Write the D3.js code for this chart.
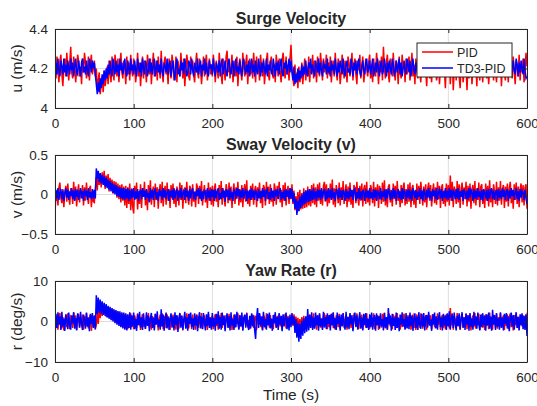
<!DOCTYPE html>
<html lang="en">
<head>
<meta charset="utf-8">
<title>Surge, sway and yaw</title>
<script src="https://d3js.org/d3.v7.min.js"></script>
<style>
  body { margin: 0; background: #fff; }
  text { font-family: "Liberation Sans", Arial, sans-serif; fill: #262626; }
</style>
</head>
<body>
<script>
// samples every 1.25 s from 0 to 600 s
var tEnd = 600;
var xTicks = [0, 100, 200, 300, 400, 500, 600];
var seriesNames = ["PID", "TD3-PID"];

// surge velocity u (m/s)
var surgePID = [
4.22,4.15,4.26,4.19,4.13,4.24,4.27,4.17,4.11,4.21,4.25,4.16,4.28,4.20,4.14,4.23,4.31,4.18,4.15,4.26,4.22,4.13,4.19,4.27,4.24,4.16,4.21,4.12,4.25,4.18,4.28,4.23,4.15,4.19,4.26,4.14,4.22,4.27,4.17,4.20,
4.24,4.16,4.20,4.10,4.14,4.18,4.07,4.12,4.16,4.08,4.19,4.11,4.15,4.21,4.12,4.24,4.17,4.13,4.26,4.19,4.14,4.27,4.22,4.16,4.25,4.13,4.21,4.28,4.18,4.15,4.24,4.20,4.12,4.26,4.17,4.23,4.14,4.27,4.19,4.16,
4.25,4.21,4.13,4.18,4.28,4.16,4.23,4.11,4.20,4.26,4.15,4.24,4.19,4.13,4.27,4.22,4.17,4.25,4.12,4.21,4.28,4.16,4.19,4.24,4.14,4.26,4.20,4.15,4.29,4.18,4.13,4.23,4.26,4.17,4.21,4.12,4.25,4.19,4.15,4.27,
4.22,4.14,4.18,4.26,4.13,4.24,4.20,4.16,4.28,4.21,4.15,4.25,4.11,4.19,4.27,4.23,4.16,4.14,4.26,4.20,4.24,4.17,4.13,4.22,4.28,4.18,4.15,4.25,4.21,4.12,4.19,4.26,4.16,4.23,4.27,4.14,4.20,4.25,4.17,4.22,
4.16,4.27,4.21,4.13,4.24,4.19,4.15,4.28,4.22,4.17,4.12,4.25,4.20,4.14,4.26,4.29,4.18,4.23,4.15,4.21,4.27,4.13,4.19,4.24,4.16,4.26,4.11,4.22,4.25,4.18,4.14,4.28,4.20,4.16,4.23,4.27,4.12,4.21,4.25,4.17,
4.24,4.15,4.28,4.20,4.13,4.26,4.18,4.22,4.14,4.27,4.21,4.16,4.25,4.12,4.19,4.24,4.28,4.17,4.14,4.23,4.26,4.19,4.15,4.22,4.13,4.27,4.21,4.16,4.25,4.18,4.13,4.24,4.28,4.20,4.15,4.26,4.17,4.22,4.14,4.25,
4.32,4.20,4.15,4.11,4.22,4.14,4.18,4.10,4.21,4.13,4.16,4.23,4.12,4.19,4.25,4.14,4.21,4.16,4.26,4.13,4.22,4.18,4.27,4.15,4.24,4.20,4.13,4.26,4.19,4.16,4.28,4.22,4.14,4.25,4.18,4.21,4.27,4.15,4.23,4.17,
4.26,4.13,4.20,4.24,4.16,4.28,4.19,4.14,4.25,4.22,4.12,4.18,4.27,4.21,4.15,4.24,4.19,4.13,4.26,4.23,4.16,4.20,4.28,4.14,4.22,4.25,4.17,4.12,4.24,4.19,4.27,4.15,4.21,4.26,4.13,4.18,4.25,4.20,4.16,4.23,
4.27,4.15,4.21,4.13,4.25,4.19,4.16,4.28,4.22,4.12,4.24,4.18,4.26,4.14,4.31,4.20,4.15,4.23,4.27,4.17,4.13,4.25,4.21,4.16,4.28,4.19,4.14,4.24,4.22,4.12,4.26,4.18,4.15,4.27,4.20,4.23,4.13,4.25,4.17,4.21,
4.26,4.14,4.19,4.28,4.16,4.22,4.12,4.25,4.20,4.15,4.27,4.18,4.13,4.24,4.21,4.16,4.29,4.19,4.11,4.23,4.26,4.15,4.20,4.13,4.25,4.18,4.27,4.22,4.14,4.17,4.26,4.12,4.21,4.24,4.16,4.28,4.19,4.10,4.23,4.25,
4.17,4.27,4.12,4.21,4.25,4.09,4.19,4.26,4.14,4.23,4.28,4.16,4.10,4.22,4.25,4.13,4.18,4.27,4.20,4.09,4.24,4.15,4.21,4.28,4.12,4.19,4.25,4.16,4.22,4.11,4.27,4.18,4.14,4.24,4.20,4.13,4.26,4.17,4.22,4.15,
4.25,4.12,4.20,4.27,4.16,4.23,4.14,4.28,4.19,4.13,4.24,4.21,4.16,4.26,4.11,4.22,4.27,4.18,4.14,4.25,4.20,4.13,4.28,4.17,4.23,4.15,4.26,4.19,4.12,4.24,4.21,4.16,4.27,4.14,4.22,4.18,4.25,4.13,4.20,4.28,
4.21];
var surgeTD3 = [
4.13,4.23,4.17,4.25,4.19,4.16,4.24,4.21,4.17,4.25,4.18,4.22,4.16,4.24,4.20,4.17,4.25,4.19,4.23,4.16,4.21,4.25,4.18,4.17,4.24,4.20,4.16,4.23,4.25,4.18,4.21,4.17,4.24,4.19,4.16,4.25,4.22,4.18,4.24,4.20,
4.23,4.17,4.12,4.07,4.13,4.08,4.15,4.10,4.17,4.12,4.19,4.14,4.20,4.15,4.22,4.17,4.24,4.18,4.16,4.25,4.20,4.17,4.24,4.18,4.22,4.16,4.25,4.19,4.23,4.17,4.21,4.25,4.18,4.16,4.24,4.20,4.17,4.25,4.19,4.22,
4.17,4.24,4.19,4.16,4.25,4.21,4.18,4.23,4.16,4.25,4.20,4.17,4.24,4.22,4.16,4.19,4.25,4.18,4.23,4.17,4.21,4.25,4.16,4.20,4.24,4.18,4.22,4.17,4.25,4.19,4.16,4.23,4.21,4.18,4.25,4.17,4.22,4.24,4.16,4.20,
4.24,4.18,4.14,4.22,4.25,4.17,4.20,4.16,4.24,4.19,4.23,4.17,4.25,4.21,4.16,4.18,4.24,4.22,4.17,4.25,4.19,4.16,4.23,4.20,4.18,4.25,4.17,4.21,4.24,4.16,4.22,4.19,4.25,4.17,4.23,4.18,4.16,4.24,4.20,4.22,
4.17,4.25,4.19,4.16,4.23,4.21,4.18,4.24,4.16,4.22,4.25,4.17,4.20,4.24,4.18,4.16,4.23,4.25,4.19,4.17,4.22,4.24,4.16,4.20,4.25,4.18,4.21,4.17,4.24,4.19,4.16,4.23,4.25,4.20,4.17,4.22,4.18,4.24,4.16,4.21,
4.25,4.18,4.22,4.16,4.24,4.19,4.17,4.25,4.21,4.16,4.23,4.18,4.24,4.20,4.17,4.25,4.16,4.22,4.19,4.24,4.18,4.17,4.25,4.21,4.16,4.23,4.19,4.24,4.17,4.22,4.25,4.18,4.16,4.23,4.20,4.24,4.17,4.21,4.25,4.18,
4.24,4.18,4.14,4.21,4.12,4.17,4.13,4.20,4.14,4.19,4.15,4.22,4.16,4.21,4.17,4.24,4.18,4.16,4.23,4.20,4.25,4.17,4.22,4.19,4.16,4.24,4.21,4.18,4.25,4.17,4.23,4.19,4.16,4.24,4.20,4.22,4.17,4.25,4.18,4.21,
4.16,4.24,4.19,4.22,4.17,4.25,4.20,4.16,4.23,4.18,4.24,4.21,4.17,4.25,4.19,4.16,4.22,4.24,4.18,4.20,4.17,4.25,4.21,4.16,4.23,4.19,4.24,4.17,4.22,4.25,4.18,4.16,4.21,4.24,4.19,4.17,4.23,4.25,4.18,4.20,
4.24,4.17,4.21,4.25,4.16,4.19,4.23,4.18,4.25,4.20,4.16,4.22,4.24,4.17,4.19,4.25,4.21,4.16,4.23,4.18,4.24,4.20,4.17,4.25,4.22,4.16,4.19,4.24,4.18,4.21,4.25,4.17,4.23,4.16,4.20,4.24,4.19,4.17,4.25,4.22,
4.18,4.24,4.16,4.21,4.25,4.19,4.17,4.23,4.20,4.16,4.24,4.18,4.25,4.22,4.17,4.19,4.24,4.16,4.21,4.25,4.18,4.23,4.17,4.20,4.24,4.16,4.22,4.25,4.19,4.17,4.23,4.21,4.16,4.24,4.18,4.25,4.20,4.17,4.22,4.24,
4.16,4.21,4.25,4.18,4.23,4.17,4.20,4.24,4.16,4.22,4.25,4.19,4.17,4.24,4.21,4.16,4.23,4.18,4.25,4.20,4.17,4.22,4.24,4.16,4.19,4.25,4.21,4.17,4.23,4.18,4.24,4.16,4.20,4.25,4.22,4.17,4.19,4.24,4.18,4.21,
4.25,4.17,4.22,4.16,4.24,4.19,4.21,4.25,4.17,4.23,4.16,4.20,4.24,4.18,4.25,4.22,4.16,4.19,4.24,4.17,4.21,4.25,4.18,4.23,4.16,4.20,4.24,4.19,4.17,4.25,4.22,4.16,4.23,4.18,4.24,4.20,4.17,4.25,4.19,4.15,
4.16];

// sway velocity v (m/s)
var swayPID = [
0.12,-0.08,0.04,-0.14,0.09,0.15,-0.05,-0.11,0.07,-0.16,0.02,0.11,-0.09,0.14,-0.03,-0.13,0.08,0.05,-0.12,0.16,-0.07,0.10,-0.15,0.03,0.13,-0.10,0.06,-0.04,0.12,-0.14,0.09,-0.08,0.15,-0.02,-0.12,0.07,0.11,-0.16,0.04,-0.09,
-0.10,0.08,0.22,0.05,0.27,0.12,0.25,0.09,0.28,0.14,0.30,0.07,0.24,0.11,0.26,0.04,0.21,0.09,0.19,0.01,0.17,0.03,0.16,-0.04,0.14,-0.06,0.12,-0.10,0.13,-0.08,0.10,-0.14,0.11,-0.17,0.09,-0.12,0.14,-0.20,0.08,-0.15,
-0.24,0.11,-0.06,0.15,-0.19,0.04,-0.12,0.13,-0.17,0.08,-0.03,0.16,-0.14,0.06,-0.20,0.12,-0.09,0.18,-0.13,0.03,0.10,-0.16,0.14,-0.07,0.09,-0.18,0.05,0.13,-0.11,0.16,-0.15,0.02,0.11,-0.13,0.15,-0.08,0.07,-0.17,0.12,-0.05,
0.14,-0.12,0.06,-0.16,0.10,0.03,-0.14,0.15,-0.07,0.12,-0.18,0.05,0.09,-0.11,0.16,-0.04,-0.13,0.11,0.07,-0.15,0.13,-0.09,0.04,-0.16,0.14,0.08,-0.12,0.11,-0.06,0.17,-0.14,0.02,0.12,-0.10,0.06,-0.17,0.15,-0.08,0.09,-0.13,
0.11,-0.15,0.07,0.14,-0.09,0.04,-0.16,0.12,-0.06,0.17,-0.13,0.08,-0.03,-0.15,0.13,0.06,-0.11,0.15,-0.08,0.10,-0.17,0.04,0.14,-0.12,0.09,-0.05,0.16,-0.14,0.07,-0.10,0.12,-0.16,0.05,0.13,-0.09,0.18,-0.12,0.03,-0.15,0.11,
-0.07,0.14,-0.13,0.06,0.11,-0.16,0.09,-0.04,0.15,-0.11,0.05,-0.17,0.12,0.08,-0.14,0.16,-0.06,0.10,-0.12,0.13,-0.09,0.04,-0.15,0.14,0.07,-0.13,0.11,-0.05,0.16,-0.10,0.06,-0.16,0.12,-0.08,0.15,-0.14,0.03,0.11,-0.12,0.08,
-0.06,0.13,-0.12,0.05,-0.20,-0.02,-0.23,0.03,-0.21,0.06,-0.19,0.02,-0.18,0.08,-0.17,0.05,-0.16,0.10,-0.14,0.07,-0.15,0.12,-0.11,0.14,-0.13,0.09,-0.16,0.13,-0.08,0.15,-0.12,0.06,-0.14,0.11,0.16,-0.09,0.13,-0.15,0.07,-0.11,
0.14,-0.06,0.19,-0.13,0.08,-0.16,0.12,0.05,-0.11,0.15,-0.14,0.09,-0.07,0.17,-0.12,0.04,0.13,-0.16,0.10,-0.09,0.15,-0.13,0.06,-0.17,0.12,0.08,-0.11,0.16,-0.05,-0.14,0.11,-0.08,0.14,-0.15,0.07,0.12,-0.12,0.16,-0.10,0.05,
-0.14,0.12,0.06,-0.11,0.16,-0.15,0.09,-0.07,0.13,-0.17,0.11,0.04,-0.12,0.15,-0.09,0.18,-0.14,0.07,-0.16,0.10,0.13,-0.10,0.06,-0.15,0.14,-0.06,0.11,-0.13,0.17,-0.08,0.05,-0.16,0.12,-0.11,0.09,0.15,-0.14,0.07,-0.12,0.13,
-0.09,0.15,-0.16,0.08,0.12,-0.13,0.05,-0.17,0.14,-0.07,0.11,-0.12,0.16,0.03,-0.14,0.10,-0.10,0.13,-0.16,0.07,0.15,-0.08,0.12,-0.15,0.04,0.14,-0.11,0.09,-0.13,0.16,-0.06,0.11,-0.17,0.08,0.13,-0.12,0.05,-0.15,0.14,-0.09,
0.12,-0.14,0.24,-0.08,0.16,-0.16,0.10,0.05,-0.12,0.17,-0.10,0.13,-0.17,0.07,0.15,-0.13,0.09,-0.06,0.16,-0.15,0.11,-0.09,0.14,-0.18,0.06,0.12,-0.11,0.17,-0.14,0.08,-0.07,0.15,-0.16,0.10,0.13,-0.12,0.05,-0.17,0.14,-0.08,
0.11,-0.15,0.18,-0.10,0.07,-0.16,0.13,0.04,-0.12,0.16,-0.14,0.09,-0.08,0.17,-0.13,0.06,0.12,-0.17,0.10,-0.09,0.14,-0.15,0.08,0.16,-0.11,0.05,-0.18,0.13,-0.07,0.15,-0.12,0.10,-0.16,0.07,0.14,-0.10,0.12,-0.14,0.09,0.13,
-0.18];
var swayTD3 = [
-0.25,0.06,-0.05,0.08,-0.07,0.03,0.07,-0.06,0.05,-0.08,0.02,0.08,-0.04,0.06,-0.07,0.04,-0.02,0.08,-0.06,0.05,-0.08,0.07,-0.03,0.06,-0.07,0.02,0.08,-0.05,0.04,-0.08,0.07,-0.02,0.05,-0.07,0.08,-0.04,0.03,-0.06,0.07,-0.05,
0.06,-0.05,0.33,0.20,0.30,0.16,0.27,0.14,0.25,0.12,0.23,0.10,0.21,0.08,0.19,0.06,0.17,0.04,0.15,0.02,0.13,0.00,0.12,-0.02,0.10,-0.03,0.09,-0.05,0.08,-0.06,0.08,-0.07,0.07,-0.05,0.08,-0.08,0.06,-0.06,0.07,-0.04,
0.08,-0.07,0.04,-0.05,0.07,-0.08,0.03,0.06,-0.06,0.08,-0.03,0.05,-0.07,0.07,-0.04,0.02,-0.10,0.08,-0.05,0.06,-0.07,0.04,0.08,-0.06,0.03,-0.08,0.07,-0.02,0.05,-0.07,0.08,-0.04,0.06,-0.06,0.02,0.07,-0.08,0.05,-0.03,0.06,
-0.07,0.08,-0.05,0.03,0.07,-0.08,0.05,-0.04,0.08,-0.06,0.02,0.06,-0.07,0.08,-0.03,0.05,-0.08,0.07,-0.05,0.04,0.08,-0.06,0.03,-0.07,0.06,-0.02,0.08,-0.05,0.07,-0.08,0.04,-0.06,0.06,0.02,-0.07,0.08,-0.04,0.05,-0.08,0.07,
-0.03,0.06,-0.08,0.07,-0.05,0.04,0.08,-0.07,0.02,-0.06,0.08,-0.04,0.05,-0.09,0.07,-0.03,0.06,-0.07,0.08,-0.05,0.03,-0.08,0.06,0.04,-0.06,0.08,-0.02,0.07,-0.07,0.05,-0.04,0.08,-0.06,0.03,0.07,-0.08,0.05,-0.05,0.06,-0.07,
0.08,-0.04,0.05,-0.07,0.06,0.02,-0.08,0.07,-0.05,0.04,-0.06,0.08,-0.03,0.06,-0.08,0.05,0.07,-0.06,0.03,-0.07,0.08,-0.04,0.05,-0.08,0.06,-0.02,0.07,-0.06,0.04,0.08,-0.07,0.03,-0.05,0.06,-0.08,0.07,-0.03,0.05,-0.06,0.08,
-0.05,0.07,-0.10,0.02,-0.18,-0.05,-0.26,-0.08,-0.21,-0.03,-0.17,0.00,-0.14,0.03,-0.12,0.05,-0.10,0.06,-0.09,0.07,-0.08,0.05,-0.07,0.08,-0.06,0.04,-0.08,0.07,-0.04,0.06,-0.07,0.08,-0.05,0.03,0.07,-0.08,0.05,-0.06,0.08,-0.04,
0.06,-0.07,0.08,-0.05,0.03,-0.08,0.07,0.04,-0.06,0.08,-0.04,0.05,-0.07,0.06,0.02,-0.08,0.07,-0.05,0.04,-0.06,0.08,-0.03,0.06,-0.07,0.05,0.07,-0.08,0.03,-0.05,0.08,-0.06,0.04,-0.07,0.06,0.02,-0.08,0.07,-0.04,0.05,-0.06,
0.08,-0.05,0.03,-0.07,0.07,-0.04,0.06,-0.08,0.05,0.02,-0.06,0.08,-0.07,0.04,-0.03,0.07,-0.08,0.06,-0.05,0.08,0.03,-0.07,0.05,-0.06,0.08,-0.04,0.06,-0.08,0.02,0.07,-0.05,0.04,-0.07,0.08,-0.06,0.05,0.03,-0.08,0.06,-0.04,
0.07,-0.06,0.05,-0.08,0.08,0.03,-0.05,0.06,-0.07,0.04,-0.03,0.08,-0.06,0.05,-0.08,0.07,0.02,-0.07,0.06,-0.04,0.08,-0.05,0.04,-0.08,0.07,-0.02,0.05,-0.06,0.08,-0.07,0.03,0.06,-0.05,0.07,-0.08,0.04,-0.04,0.08,-0.06,0.05,
-0.07,0.08,-0.04,0.06,-0.08,0.05,0.03,-0.06,0.07,-0.05,0.08,-0.07,0.04,-0.03,0.06,-0.08,0.07,0.02,-0.06,0.05,-0.07,0.08,-0.04,0.06,0.03,-0.08,0.07,-0.05,0.05,-0.06,0.08,-0.03,0.04,-0.07,0.06,-0.08,0.07,0.02,-0.05,0.06,
-0.08,0.07,-0.05,0.04,0.08,-0.06,0.05,-0.07,0.03,0.06,-0.08,0.07,-0.04,0.05,-0.06,0.08,-0.03,0.06,-0.07,0.04,0.07,-0.08,0.05,-0.05,0.08,-0.02,0.06,-0.07,0.03,0.08,-0.06,0.04,-0.08,0.07,-0.04,0.05,0.02,-0.07,0.06,-0.05,
-0.12];

// yaw rate r (deg/s)
var yawPID = [
1.8,-1.2,0.6,-2.0,1.4,2.1,-0.8,-1.7,1.1,-2.2,0.3,1.6,-1.4,2.0,-0.5,-1.9,1.2,0.8,-1.6,2.2,-1.0,1.5,-2.1,0.4,1.9,-1.5,0.9,-0.6,1.7,-2.0,1.3,-1.1,2.1,-0.3,-1.7,1.0,1.6,-2.3,0.6,-1.3,
1.5,-1.8,-0.9,2.0,-0.6,3.8,0.8,4.3,1.4,4.0,1.8,3.9,1.2,3.6,1.0,3.4,0.7,3.2,0.4,3.0,0.1,2.7,-0.3,2.5,-0.6,2.3,-1.0,2.1,-1.3,1.9,-1.5,1.8,-1.7,1.6,-1.9,1.4,-1.6,2.0,-1.4,1.2,
-1.9,1.5,0.4,-1.6,2.0,-0.9,1.1,-2.1,0.7,1.8,-1.3,0.2,-1.8,1.6,-0.6,2.1,-1.5,0.9,-2.0,1.3,0.5,-1.7,1.9,-0.8,1.2,-2.2,0.6,1.7,-1.2,2.0,-1.9,0.3,1.4,-1.6,1.8,-0.7,0.9,-2.1,1.5,-0.4,
1.7,-1.5,0.8,-2.0,1.3,0.4,-1.8,1.9,-0.9,1.5,-2.2,0.6,1.2,-1.4,2.0,-0.5,-1.7,1.4,0.9,-1.9,1.7,-1.1,0.5,-2.0,1.8,1.0,-1.5,1.4,-0.7,2.1,-1.8,0.2,1.5,-1.3,0.8,-2.1,1.9,-1.0,1.1,-1.6,
1.4,-1.9,0.9,1.8,-1.1,0.5,-2.0,1.5,-0.7,2.1,-1.6,1.0,-0.4,-1.9,1.6,0.8,-1.4,1.9,-1.0,1.2,-2.1,0.5,1.7,-1.5,1.1,-0.6,2.0,-1.8,0.9,-1.2,1.5,-2.0,0.6,1.6,-1.1,2.2,-1.5,0.4,-1.9,1.4,
-0.9,1.7,-1.6,0.8,1.4,-2.0,1.1,-0.5,1.9,-1.4,0.6,-2.1,1.5,1.0,-1.7,2.0,-0.7,1.2,-1.5,1.6,-1.1,0.5,-1.9,1.7,0.9,-1.6,1.4,-0.6,2.0,-1.2,0.8,-2.0,1.5,-1.0,1.9,-1.7,0.4,1.4,-1.5,1.0,
-0.8,1.6,-1.1,1.8,-0.6,1.2,-1.3,0.9,-2.3,0.6,-2.0,1.1,-1.8,1.4,-1.6,0.7,-1.9,1.5,-1.2,1.8,-0.8,1.3,-1.7,2.0,-1.4,0.6,-2.0,1.6,-0.9,1.9,-1.5,0.8,-1.8,1.4,2.0,-1.1,1.6,-1.9,0.9,-1.4,
1.7,-0.8,2.0,-1.6,1.0,-2.0,1.5,0.6,-1.4,1.9,-1.8,1.1,-0.9,2.1,-1.5,0.5,1.6,-2.0,1.2,-1.1,1.9,-1.6,0.8,-2.1,1.5,1.0,-1.4,2.0,-0.6,-1.8,1.4,-1.0,1.7,-1.9,0.9,1.5,-1.5,2.0,-1.2,0.6,
-1.8,1.5,0.8,-1.4,2.0,-1.9,1.1,-0.9,1.6,-2.1,1.4,0.5,-1.5,1.9,-1.1,2.2,-1.7,0.9,-2.0,1.2,1.6,-1.2,0.8,-1.9,1.8,-0.7,1.4,-1.6,2.1,-1.0,0.6,-2.0,1.5,-1.4,1.1,1.9,-1.8,0.9,-1.5,1.6,
-1.1,1.9,-2.0,1.0,1.5,-1.6,0.6,-2.1,1.8,-0.9,1.4,-1.5,2.0,0.4,-1.8,1.2,-1.2,1.6,-2.0,0.9,1.9,-1.0,1.5,-1.9,0.5,1.8,-1.4,1.1,-1.6,2.0,-0.7,1.4,-2.1,1.0,1.6,-1.5,0.6,-1.9,1.8,-1.1,
1.5,-1.7,3.3,-1.0,2.0,-2.0,1.2,0.6,-1.5,2.1,-1.2,1.6,-2.1,0.9,1.9,-1.6,1.1,-0.7,2.0,-1.9,1.4,-1.1,1.8,-2.2,0.7,1.5,-1.4,2.1,-1.8,1.0,-0.9,1.9,-2.0,1.2,1.6,-1.5,0.6,-2.1,1.8,-1.0,
1.4,-1.9,2.2,-1.2,0.9,-2.0,1.6,0.5,-1.5,2.0,-1.8,1.1,-1.0,2.1,-1.6,0.7,1.5,-2.1,1.2,-1.1,1.8,-1.9,1.0,2.0,-1.4,0.6,-2.2,1.6,-0.9,1.9,-1.5,1.2,-2.0,0.9,1.7,-1.2,1.5,-1.8,1.1,1.6,
-2.0];
var yawTD3 = [
-4.5,1.9,-1.6,2.3,-0.8,1.2,-2.1,2.4,-1.2,0.7,-2.3,1.8,0.4,-1.9,2.2,-1.0,-2.0,1.5,-0.5,2.3,-1.8,0.9,-2.2,2.0,1.1,-1.5,2.4,-0.7,-2.1,1.7,0.5,-1.8,2.2,-1.3,1.0,-2.4,1.9,-0.6,2.1,-1.6,
1.4,-2.0,6.5,1.8,5.9,2.2,5.4,1.9,5.0,1.6,4.6,1.4,4.3,1.0,3.9,0.7,3.6,0.3,3.3,0.0,3.0,-0.4,2.8,-0.8,2.6,-1.1,2.5,-1.4,2.3,-1.7,2.2,-2.0,2.0,-2.2,1.8,-1.6,2.3,-2.0,1.5,-1.2,
2.2,-1.9,0.6,-2.3,1.8,-0.9,2.4,-1.5,1.0,-2.1,2.0,-0.4,-1.8,2.3,-1.1,1.4,-2.4,0.8,2.1,-1.6,1.0,-2.2,1.9,-0.7,2.5,-1.4,0.5,-2.0,3.0,-1.2,1.7,-2.3,0.9,2.2,-1.7,1.3,-2.1,0.6,2.0,-1.5,
1.2,-2.2,2.3,-0.8,1.6,-2.6,0.9,2.1,-1.5,1.4,-2.0,0.5,2.4,-1.8,1.0,-2.3,1.9,-0.6,2.2,-1.4,0.8,-2.1,2.0,-1.0,1.5,-2.4,0.7,2.3,-1.7,1.2,-1.9,2.1,-0.5,-2.2,1.8,-1.1,2.4,-1.6,0.9,-2.0,
2.1,-1.3,0.8,-2.3,1.9,-0.7,2.5,-1.8,1.1,-2.0,2.2,-0.9,1.5,-2.4,0.6,2.0,-1.6,1.3,-2.2,2.3,-1.0,0.7,-2.1,1.8,-1.4,2.4,-0.5,-2.0,1.6,-1.2,2.2,-2.3,0.9,1.7,-1.5,2.0,-0.8,-2.1,1.4,-1.7,
2.0,-1.2,1.5,-2.0,-4.3,0.8,3.3,-1.6,2.1,-0.9,1.3,-2.2,2.4,-1.4,0.6,-2.0,1.9,-1.0,2.2,-1.7,0.7,-2.3,1.6,-0.5,2.3,-1.5,1.1,-2.1,2.0,-0.8,1.4,-2.4,1.8,-1.2,0.9,2.2,-1.9,1.0,-2.2,1.7,
-1.4,2.1,-0.8,1.2,-2.8,0.6,-4.0,-0.3,-5.0,-0.6,-4.3,0.2,-3.5,0.8,-2.9,1.3,-2.5,3.1,-2.2,1.6,-1.6,2.3,-2.1,1.0,-1.8,2.2,-0.9,1.5,-2.3,2.0,-1.2,0.7,-2.1,2.4,-1.5,1.1,-1.9,2.0,-0.6,1.6,
-2.2,1.9,-1.0,2.3,-1.7,0.8,-2.1,2.2,-0.6,1.4,-2.3,1.7,-1.2,2.0,-0.8,-2.0,2.4,-1.5,1.1,-1.9,2.1,-0.7,1.6,-2.4,0.9,2.2,-1.3,1.5,-2.0,0.6,2.3,-1.8,1.0,-2.2,1.9,-0.9,2.1,-1.6,0.7,-2.1,
1.8,-1.4,2.2,-2.0,0.8,1.6,-2.3,2.0,-0.9,1.3,-1.8,2.0,-1.2,0.6,-2.2,2.1,-1.5,1.1,-2.0,3.3,-0.7,1.5,-2.3,1.9,-1.1,0.9,-2.1,2.2,-1.6,1.0,-2.4,1.7,-0.8,2.3,-1.3,0.6,-2.0,2.1,-1.7,1.2,
-1.9,2.2,-1.1,1.5,-2.3,0.7,2.0,-1.6,1.2,-2.1,2.3,-0.6,-1.8,1.9,-1.3,2.1,-2.2,0.9,1.6,-1.5,2.4,-1.0,0.5,-2.3,1.8,-0.8,2.2,-1.7,1.3,-2.0,0.8,2.3,-1.4,1.0,-2.2,1.9,-0.9,1.5,-2.1,2.0,
-1.2,2.5,-2.0,0.9,1.8,-1.6,2.2,-0.7,-2.2,1.4,-1.1,2.0,-1.9,0.6,2.3,-1.5,1.0,-2.1,1.9,-0.8,1.6,-2.3,2.1,-1.3,0.7,-2.0,2.4,-1.0,1.3,-1.8,2.2,-0.6,-2.2,1.7,-1.4,2.0,-0.9,1.5,-2.3,1.8,
-1.0,2.2,-1.8,1.2,-2.3,2.9,-0.8,1.6,-2.1,2.0,-1.3,0.7,-2.0,2.3,-1.5,1.0,-2.2,1.9,-0.6,2.1,-1.7,1.3,-2.4,0.8,2.2,-1.2,1.6,-2.0,0.5,2.3,-1.6,1.1,-2.2,1.8,-0.9,2.0,-1.9,1.4,-2.1,1.7,
-3.6];

var panels = [
  { title: "Surge Velocity", ylabel: "u (m/s)", domain: [4, 4.4], ticks: [4, 4.2, 4.4],
    pid: surgePID, td3: surgeTD3, top: 29, bottom: 108, legend: true },
  { title: "Sway Velocity (v)", ylabel: "v (m/s)", domain: [-0.5, 0.5], ticks: [-0.5, 0, 0.5],
    pid: swayPID, td3: swayTD3, top: 155, bottom: 234 },
  { title: "Yaw Rate (r)", ylabel: "r (deg/s)", domain: [-10, 10], ticks: [-10, 0, 10],
    pid: yawPID, td3: yawTD3, top: 281, bottom: 362 }
];

var W = 537, H = 406;
var left = 55, right = 527;
var axisColor = "#262626";

var svg = d3.select("body").append("svg")
  .attr("width", W)
  .attr("height", H);

var x = d3.scaleLinear().domain([0, tEnd]).range([left, right]);

panels.forEach(function(p, k) {
  var y = d3.scaleLinear().domain(p.domain).range([p.bottom, p.top]);
  var g = svg.append("g");

  svg.append("clipPath").attr("id", "clip" + k)
    .append("rect")
    .attr("x", left).attr("y", p.top)
    .attr("width", right - left).attr("height", p.bottom - p.top);

  // grid
  g.selectAll(".vgrid").data(xTicks).enter().append("line")
    .attr("x1", function(d) { return x(d); }).attr("x2", function(d) { return x(d); })
    .attr("y1", p.top).attr("y2", p.bottom)
    .attr("stroke", "#dedede").attr("stroke-width", 1);
  g.selectAll(".hgrid").data(p.ticks).enter().append("line")
    .attr("x1", left).attr("x2", right)
    .attr("y1", function(d) { return y(d); }).attr("y2", function(d) { return y(d); })
    .attr("stroke", "#dedede").attr("stroke-width", 1);

  // each series is sampled evenly over 0..600 s
  function lineFor(vals) {
    var n = vals.length;
    return d3.line()
      .x(function(d, i) { return x(i * tEnd / (n - 1)); })
      .y(function(d) { return y(d); })(vals);
  }

  var lines = g.append("g").attr("clip-path", "url(#clip" + k + ")");
  lines.append("path")
    .attr("d", lineFor(p.pid)).attr("fill", "none")
    .attr("stroke", "#ff0000").attr("stroke-width", 1.5);
  lines.append("path")
    .attr("d", lineFor(p.td3)).attr("fill", "none")
    .attr("stroke", "#0000ff").attr("stroke-width", 1.5);

  // axes, ticks inward like matlab
  var xAxis = d3.axisBottom(x).tickValues(xTicks).tickSizeInner(-4).tickSizeOuter(0).tickPadding(10);
  var yAxis = d3.axisLeft(y).tickValues(p.ticks).tickSizeInner(-4).tickSizeOuter(0).tickPadding(7)
    .tickFormat(d3.format("~g"));

  var gx = g.append("g").attr("transform", "translate(0," + p.bottom + ")").call(xAxis);
  var gy = g.append("g").attr("transform", "translate(" + left + ",0)").call(yAxis);
  var gx2 = g.append("g").attr("transform", "translate(0," + p.top + ")")
    .call(d3.axisTop(x).tickValues(xTicks).tickSizeInner(-4).tickSizeOuter(0).tickFormat(""));
  var gy2 = g.append("g").attr("transform", "translate(" + right + ",0)")
    .call(d3.axisRight(y).tickValues(p.ticks).tickSizeInner(-4).tickSizeOuter(0).tickFormat(""));

  [gx, gy, gx2, gy2].forEach(function(a) {
    a.select(".domain").attr("stroke", axisColor);
    a.selectAll(".tick line").attr("stroke", axisColor);
    a.selectAll("text").attr("font-size", 13.5).attr("fill", axisColor)
      .attr("font-family", "Liberation Sans, Arial, sans-serif");
  });

  g.append("text")
    .attr("x", (left + right) / 2).attr("y", p.top - 5)
    .attr("text-anchor", "middle")
    .attr("font-size", 16).attr("font-weight", "bold")
    .text(p.title);

  g.append("text")
    .attr("transform", "translate(22," + ((p.top + p.bottom) / 2) + ") rotate(-90)")
    .attr("text-anchor", "middle")
    .attr("font-size", 15.5)
    .text(p.ylabel);

  if (p.legend) {
    var lg = g.append("g").attr("transform", "translate(417,43)");
    lg.append("rect").attr("width", 95).attr("height", 34)
      .attr("fill", "#fff").attr("stroke", axisColor).attr("stroke-width", 1);
    seriesNames.forEach(function(name, i) {
      var yy = 9 + i * 16;
      lg.append("line").attr("x1", 5).attr("x2", 36).attr("y1", yy).attr("y2", yy)
        .attr("stroke", i == 0 ? "#ff0000" : "#0000ff").attr("stroke-width", 1.5);
      lg.append("text").attr("x", 40).attr("y", yy + 4.5)
        .attr("font-size", 12.5).text(name);
    });
  }
});

svg.append("text")
  .attr("x", (left + right) / 2).attr("y", 400)
  .attr("text-anchor", "middle")
  .attr("font-size", 15.5)
  .text("Time (s)");
</script>
</body>
</html>
